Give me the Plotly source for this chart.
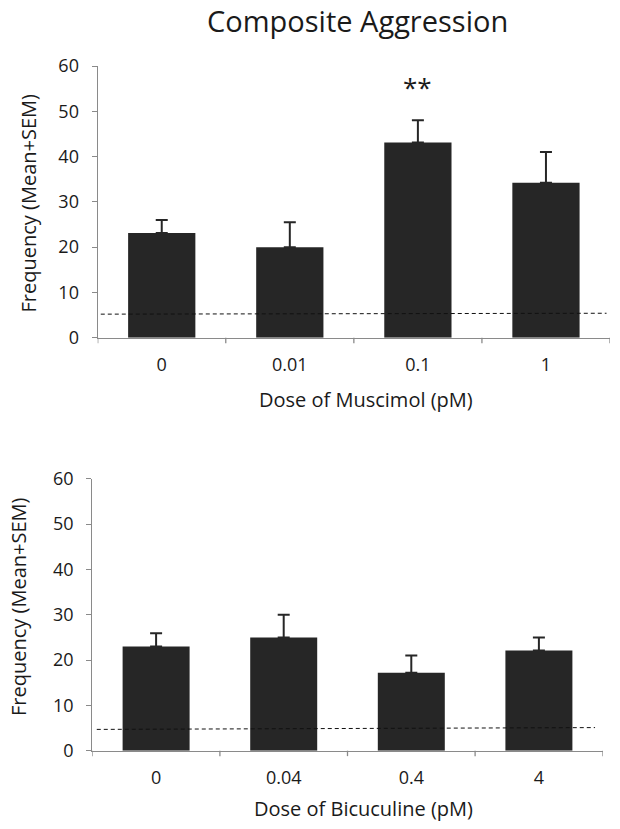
import plotly.graph_objects as go

title_text = "Composite Aggression"
y_title = "Frequency (Mean+SEM)"

musc_labels = ["0", "0.01", "0.1", "1"]
musc_mean = [23.1, 20.0, 43.1, 34.2]
musc_sem = [2.9, 5.5, 4.9, 6.8]
musc_base = [5.2, 5.4]
musc_title = "Dose of Muscimol (pM)"
musc_sig = ["", "", "**", ""]

bicu_labels = ["0", "0.04", "0.4", "4"]
bicu_mean = [23.0, 25.0, 17.2, 22.1]
bicu_sem = [2.9, 5.0, 3.8, 2.9]
bicu_base = [4.7, 5.1]
bicu_title = "Dose of Bicuculine (pM)"

y_ticks = [0, 10, 20, 30, 40, 50, 60]

W, H = 620, 829
FONT = "Open Sans"
TXT = "#1a1a1a"
AX = "#8a8a8a"
BAR = "#262626"

def px(x):
    return x / W

def py(y):
    return 1 - y / H

fig = go.Figure()

def add_panel(labels, mean, sem, base, xa, ya, x_start, x_end):
    xs = list(range(len(labels)))
    fig.add_trace(go.Bar(
        x=xs, y=mean, xaxis=xa, yaxis=ya, marker=dict(color=BAR, line=dict(width=0)),
        error_y=dict(type="data", array=sem, arrayminus=[0]*len(sem), symmetric=False,
                     color=BAR, thickness=2, width=6),
        width=0.525, showlegend=False, hoverinfo="skip"))
    fig.add_trace(go.Scatter(
        x=[x_start, x_end], y=base, xaxis=xa, yaxis=ya, mode="lines",
        line=dict(color="#111111", width=1, dash="4px,3px"), showlegend=False, hoverinfo="skip"))

add_panel(musc_labels, musc_mean, musc_sem, musc_base, "x", "y", -0.476, 3.473)
add_panel(bicu_labels, bicu_mean, bicu_sem, bicu_base, "x2", "y2", -0.465, 3.44)

def xaxis(dom, labels, anchor):
    return dict(domain=dom, anchor=anchor, range=[-0.5, len(labels) - 0.5], automargin=False,
                tickmode="array", tickvals=list(range(len(labels))), ticktext=labels,
                showline=True, linecolor=AX, linewidth=1.3, ticks="", showgrid=False,
                zeroline=False, tickfont=dict(family=FONT, size=18, color=TXT), ticklabelstandoff=11)

def yaxis(dom, anchor):
    return dict(domain=dom, anchor=anchor, range=[0, 60], tickmode="array", tickvals=y_ticks,
                automargin=False,
                showline=True, linecolor=AX, linewidth=1.3, ticks="outside", ticklen=5,
                tickcolor=AX, showgrid=False, zeroline=False, ticklabelstandoff=9,
                tickfont=dict(family=FONT, size=18, color=TXT))

fig.update_layout(
    template="none",
    width=W, height=H, margin=dict(l=0, r=0, t=0, b=0, pad=0), autosize=False,
    paper_bgcolor="white", plot_bgcolor="white",
    xaxis=xaxis([px(97.7), px(610)], musc_labels, "y"),
    yaxis=yaxis([py(337.7), py(66.0)], "x"),
    xaxis2=xaxis([px(92.3), px(602.7)], bicu_labels, "y2"),
    yaxis2=yaxis([py(750.7), py(478.8)], "x2"),
)

# boundary tick marks on category axes
for xa, ya, n in [("x", "y", 4), ("x2", "y2", 4)]:
    for i in range(n + 1):
        fig.add_shape(type="line", xref=xa, yref=f"{ya} domain", x0=i - 0.5, x1=i - 0.5,
                      y0=0, y1=-0.02, line=dict(color=AX, width=1.3))

anns = [
    dict(text=title_text, x=357, y=21, size=29),
    dict(text=musc_title, x=366, y=400, size=20),
    dict(text=bicu_title, x=363, y=808, size=20),
    dict(text=y_title, x=27.5, y=203, size=20, angle=-90),
    dict(text=y_title, x=18, y=607, size=20, angle=-90),
]
for a in anns:
    fig.add_annotation(text=a["text"], x=px(a["x"]), y=py(a["y"]), xref="paper", yref="paper",
                       showarrow=False, textangle=a.get("angle", 0),
                       font=dict(family=FONT, size=a["size"], color=TXT),
                       xanchor="center", yanchor="middle")

for i, s in enumerate(musc_sig):
    if s:
        fig.add_annotation(text=s, x=i, y=55.3, xref="x", yref="y", yanchor="middle",
                           showarrow=False, font=dict(family=FONT, size=26, color=TXT))

fig.write_html("out.html", config={"displayModeBar": False},
               post_script="document.body.style.margin='0';")
